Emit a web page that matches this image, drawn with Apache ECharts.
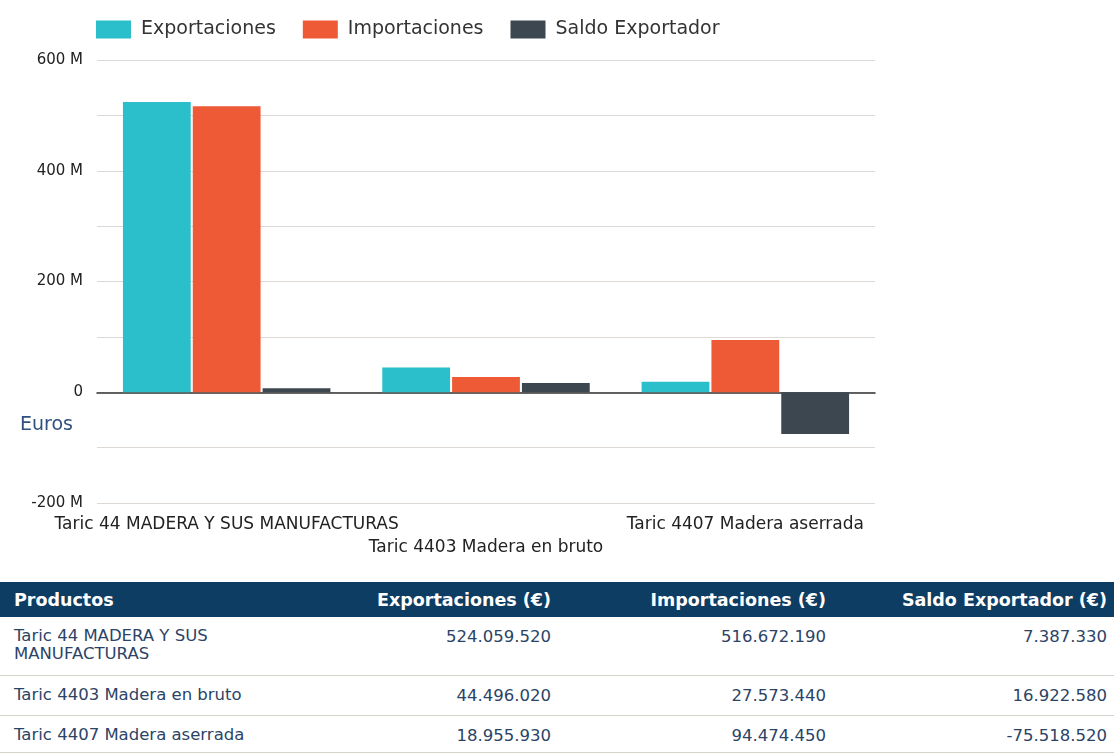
<!DOCTYPE html>
<html>
<head>
<meta charset="utf-8">
<script src="https://cdn.jsdelivr.net/npm/echarts@6/dist/echarts.min.js"></script>
<style>
  body { margin: 0; background: #fff; font-family: "DejaVu Sans", sans-serif; }
  #chart { position: absolute; left: 0; top: 0; width: 1114px; height: 575px; }
  #tabla { position: absolute; left: 0; top: 582px; width: 1114px; border-collapse: collapse; table-layout: fixed; font-size: 16.5px; color: #2b4466; }
  #tabla th { background: #0e3d63; color: #fff; font-weight: bold; font-size: 17.5px; height: 35px; padding: 0 7px 0 14px; }
  #tabla td { padding: 0 7px 0 14px; border-bottom: 1px solid #d8d2cc; vertical-align: top; }
  #tabla .l { text-align: left; }
  #tabla .r { text-align: right; }
</style>
</head>
<body>
<div id="chart"></div>
<table id="tabla">
  <colgroup><col style="width:300px"><col style="width:258px"><col style="width:275px"><col style="width:281px"></colgroup>
  <tbody id="cuerpo"></tbody>
</table>
<script>
// datos
const categorias = ['Taric 44 MADERA Y SUS MANUFACTURAS', 'Taric 4403 Madera en bruto', 'Taric 4407 Madera aserrada']
const exportaciones = [524059520, 44496020, 18955930]
const importaciones = [516672190, 27573440, 94474450]
const saldo = [7387330, 16922580, -75518520]
const nombresSeries = ['Exportaciones', 'Importaciones', 'Saldo Exportador']
const cabecera = ['Productos', 'Exportaciones (€)', 'Importaciones (€)', 'Saldo Exportador (€)']
const colores = ['#2bbfcc', '#ee5a35', '#3d4750']

var fuente = '"DejaVu Sans", sans-serif'
var myChart = echarts.init(document.getElementById('chart'))

var option = {
  animation: false,
  color: colores,
  textStyle: { fontFamily: fuente },
  legend: {
    top: 15,
    left: 91,
    itemWidth: 35,
    itemHeight: 18,
    itemGap: 27,
    icon: 'rect',
    textStyle: { color: '#333', fontSize: 19, fontFamily: fuente, padding: [0, 0, 0, 5] },
    data: nombresSeries
  },
  grid: { left: 97, right: 239, top: 60, bottom: 72, containLabel: false, outerBoundsMode: 'none' },
  xAxis: {
    type: 'category',
    data: categorias,
    axisLine: { onZero: true, lineStyle: { color: '#333', width: 1.5 } },
    axisTick: { show: false },
    axisLabel: {
      interval: 0,
      color: '#222',
      fontSize: 17,
      fontFamily: fuente,
      margin: 10,
      lineHeight: 23,
      formatter: function (v, i) { return i % 2 === 1 ? '\n' + v : v }
    }
  },
  yAxis: {
    type: 'value',
    min: -200000000,
    max: 600000000,
    interval: 100000000,
    axisLine: { show: false },
    axisTick: { show: false },
    splitLine: { lineStyle: { color: '#ddd8d3', width: 1 } },
    axisLabel: {
      color: '#222',
      fontSize: 15,
      fontFamily: fuente,
      margin: 14,
      formatter: function (v) {
        if (v % 200000000 !== 0) return ''
        return v === 0 ? '0' : (v / 1000000) + ' M'
      }
    }
  },
  graphic: [{
    type: 'text',
    left: 20,
    top: 416,
    style: { text: 'Euros', fill: '#2f5080', font: '19px ' + fuente }
  }],
  series: [
    { name: nombresSeries[0], type: 'bar', data: exportaciones, barGap: '3%', barCategoryGap: '20%' },
    { name: nombresSeries[1], type: 'bar', data: importaciones },
    { name: nombresSeries[2], type: 'bar', data: saldo }
  ]
}
myChart.setOption(option)

// tabla
function fmt(n) {
  var s = Math.abs(n).toString().replace(/\B(?=(\d{3})+(?!\d))/g, '.')
  return (n < 0 ? '-' : '') + s
}
var html = '<tr>' + cabecera.map(function (h, i) {
  return '<th class="' + (i === 0 ? 'l' : 'r') + '">' + h + '</th>'
}).join('') + '</tr>'
var alturas = [58, 40, 37]
var nombresTabla = ['Taric 44 MADERA Y SUS<br>MANUFACTURAS', categorias[1], categorias[2]]
for (var i = 0; i < categorias.length; i++) {
  html += '<tr style="height:' + alturas[i] + 'px">' +
    '<td class="l" style="padding-top:10px;line-height:18px">' + nombresTabla[i] + '</td>' +
    '<td class="r" style="padding-top:10px">' + fmt(exportaciones[i]) + '</td>' +
    '<td class="r" style="padding-top:10px">' + fmt(importaciones[i]) + '</td>' +
    '<td class="r" style="padding-top:10px">' + fmt(saldo[i]) + '</td></tr>'
}
document.getElementById('cuerpo').innerHTML = html
</script>
</body>
</html>
